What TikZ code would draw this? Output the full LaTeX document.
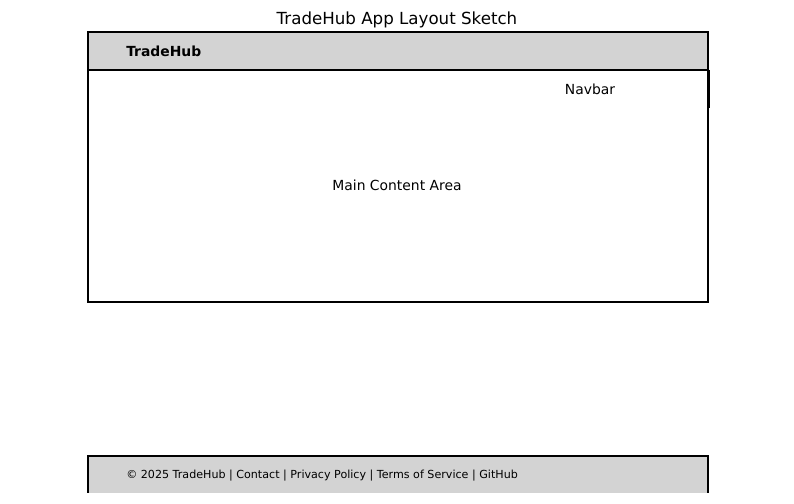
\documentclass[tikz,border=0pt]{standalone}
\usepackage{fontspec}
\setmainfont{DejaVu Sans}
\definecolor{barfill}{HTML}{D3D3D3}
\tikzset{
  panel/.style={draw=black,line width=0.8pt},
  label/.style={inner sep=0pt,font=\fontsize{10}{12}\selectfont}
}

\begin{document}
\begin{tikzpicture}[x=0.72pt,y=-0.72pt]
            \useasboundingbox (0,0) rectangle (794,504);

            \node[inner sep=0pt,font=\fontsize{12}{14}\selectfont] (title) at (397,19.5) {TradeHub App Layout Sketch};

            \draw[panel,fill=white] (88,70) rectangle (708,302);
            \draw[panel,fill=barfill] (88,32) rectangle (708,70);
            \draw[panel] (709,70) -- (709,108);
            \fill[barfill] (88,456) rectangle (708,493);
            \draw[panel] (88,493) -- (88,456) -- (708,456) -- (708,493);

            \node[label,anchor=west,font=\fontsize{10}{12}\selectfont\bfseries] (brand) at (126,51.5) {TradeHub};
            \node[label] (navbar) at (590,89.5) {Navbar};
            \node[label] (content) at (397,185.5) {Main Content Area};
            \node[label,anchor=west,font=\fontsize{8}{10}\selectfont] (footer) at (126,475.5) {© 2025 TradeHub | Contact | Privacy Policy | Terms of Service | GitHub};
\end{tikzpicture}
\end{document}
